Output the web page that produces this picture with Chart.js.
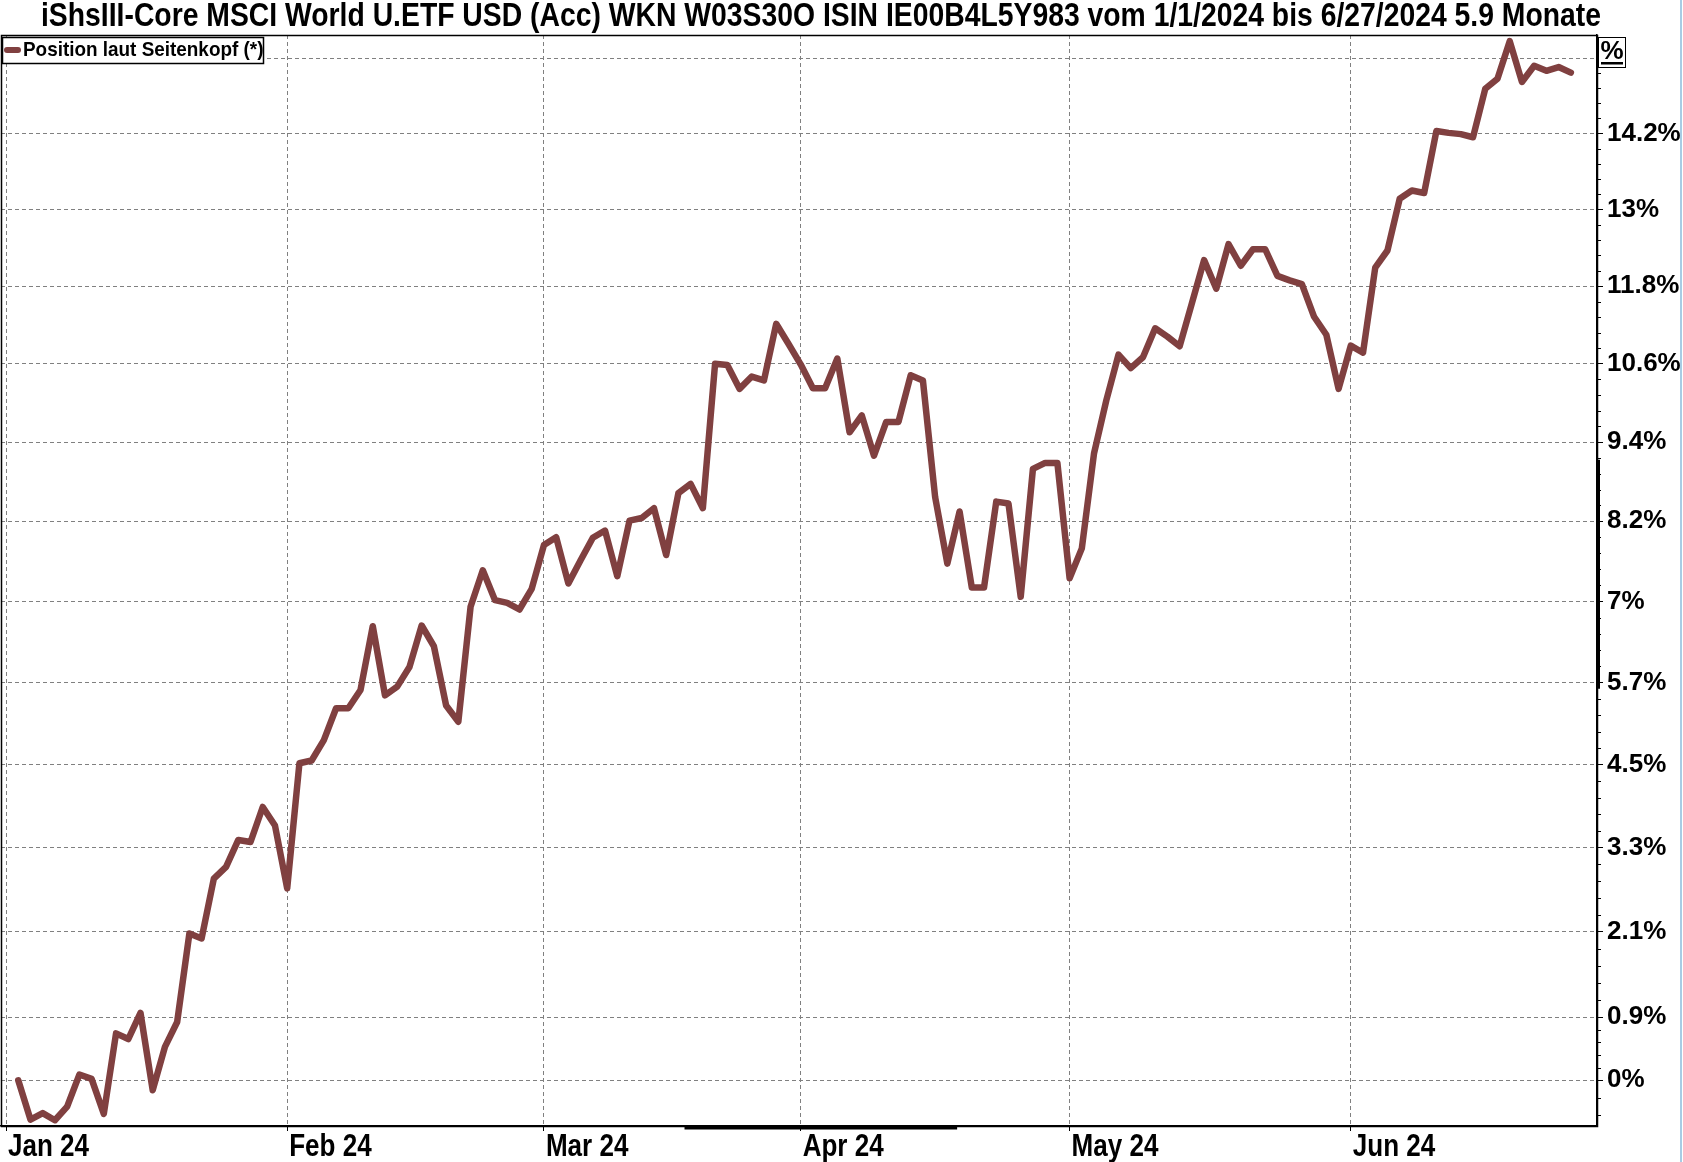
<!DOCTYPE html>
<html>
<head>
<meta charset="utf-8">
<script src="https://cdn.jsdelivr.net/npm/chart.js@4.4.1/dist/chart.umd.min.js"></script>
<style>
  html, body { margin: 0; padding: 0; background: #fff; }
  #wrap { width: 1683px; height: 1162px; position: relative; }
</style>
</head>
<body>
<div id="wrap"><canvas id="chart" width="1683" height="1162"></canvas></div>
<script>
// chart values (percent vs. 1/1/2024)
const titleText = "iShsIII-Core MSCI World U.ETF USD (Acc) WKN W03S30O ISIN IE00B4L5Y983 vom 1/1/2024 bis 6/27/2024 5.9 Monate";
const legendText = "Position laut Seitenkopf (*)";

const monthLabels = ["Jan 24", "Feb 24", "Mar 24", "Apr 24", "May 24", "Jun 24"];
const monthTickIdx = [-1, 22, 43, 64, 86, 109]; // trading-day index of month gridlines

const pctValues = [
  0, -0.55, -0.46, -0.56, -0.37, 0.08, 0.02, -0.47, 0.66, 0.58,
  0.95, -0.14, 0.47, 0.82, 2.08, 2.01, 2.87, 3.04, 3.43, 3.40,
  3.91, 3.64, 2.73, 4.55, 4.59, 4.89, 5.36, 5.36, 5.63, 6.58,
  5.55, 5.68, 5.97, 6.59, 6.28, 5.40, 5.16, 6.87, 7.42, 6.97,
  6.93, 6.83, 7.14, 7.80, 7.92, 7.22, 7.57, 7.91, 8.02, 7.33,
  8.17, 8.21, 8.36, 7.65, 8.59, 8.73, 8.36, 10.58, 10.56, 10.19,
  10.38, 10.32, 11.20, 10.89, 10.57, 10.20, 10.20, 10.66, 9.52, 9.78,
  9.16, 9.68, 9.68, 10.40, 10.32, 8.53, 7.52, 8.31, 7.16, 7.16,
  8.46, 8.43, 7.02, 8.96, 9.05, 9.05, 7.30, 7.75, 9.20, 10.01,
  10.72, 10.51, 10.68, 11.13, 11.00, 10.85, 11.52, 12.20, 11.75, 12.45,
  12.11, 12.37, 12.37, 11.95, 11.88, 11.82, 11.31, 11.03, 10.19, 10.86,
  10.75, 12.08, 12.35, 13.17, 13.30, 13.26, 14.25, 14.22, 14.20, 14.15,
  14.93, 15.09, 15.70, 15.04, 15.30, 15.22, 15.28, 15.19
];

const yTickPct = [0, 0.89, 2.11, 3.32, 4.53, 5.74, 6.95, 8.16, 9.37, 10.58, 11.79, 13.0, 14.21, 15.42];
const yTickLabels = ["0%", "0.9%", "2.1%", "3.3%", "4.5%", "5.7%", "7%", "8.2%", "9.4%", "10.6%", "11.8%", "13%", "14.2%", "%"];
const yRangePct = [-0.64, 15.8];
const xRangeIdx = [-1.41, 129.14];

// thick range markers on the axes
const xMarkIdx = [54.5, 76.8];
const yMarkPct = [5.65, 9.1];

const lineColor = "#804040";
const sans = '"Liberation Sans", Arial, sans-serif';

const toIdx = (p) => 100 + p;

// draw text squeezed horizontally (no narrow font installed)
function narrowText(ctx, text, x, y, sx, align) {
  ctx.save();
  ctx.translate(x, y);
  ctx.scale(sx, 1);
  ctx.textAlign = align;
  ctx.fillText(text, 0, 0);
  ctx.restore();
}

const extras = {
  id: "extras",
  afterDraw(chart) {
    const { ctx, chartArea: a, scales } = chart;
    const y = scales.y;
    const x = scales.x;
    ctx.save();

    // frame
    ctx.strokeStyle = "#000";
    ctx.lineWidth = 1.5;
    ctx.strokeRect(a.left + 0.5, a.top + 0.5, a.right - a.left, a.bottom - a.top);

    // minor ticks on right axis
    ctx.lineWidth = 1;
    const step0 = (yTickPct[2] - yTickPct[1]) / 5;
    const minors = [];
    for (let i = 0; i < yTickPct.length - 1; i++) {
      const s = (yTickPct[i + 1] - yTickPct[i]) / 5;
      for (let k = 1; k < 5; k++) minors.push(yTickPct[i] + k * s);
    }
    for (let k = 1; k < 5; k++) {
      minors.push(yTickPct[0] - k * step0);
      minors.push(yTickPct[yTickPct.length - 1] + k * step0);
    }
    ctx.beginPath();
    minors.forEach((p) => {
      const py = Math.round(y.getPixelForValue(toIdx(p))) + 0.5;
      if (py < a.top || py > a.bottom) return;
      ctx.moveTo(a.right, py);
      ctx.lineTo(a.right + 4, py);
    });
    ctx.stroke();

    // range markers
    ctx.lineWidth = 3;
    ctx.beginPath();
    ctx.moveTo(x.getPixelForValue(xMarkIdx[0]), a.bottom + 2);
    ctx.lineTo(x.getPixelForValue(xMarkIdx[1]), a.bottom + 2);
    ctx.moveTo(a.right + 1.5, y.getPixelForValue(toIdx(yMarkPct[0])));
    ctx.lineTo(a.right + 1.5, y.getPixelForValue(toIdx(yMarkPct[1])));
    ctx.stroke();

    // month labels
    ctx.fillStyle = "#000";
    ctx.font = "bold 31px " + sans;
    ctx.textBaseline = "middle";
    monthTickIdx.forEach((v, i) => {
      narrowText(ctx, monthLabels[i], x.getPixelForValue(v) + 2, a.bottom + 21, 0.84, "left");
    });

    // "%" unit box at the top of the value axis
    ctx.lineWidth = 1;
    ctx.fillStyle = "#fff";
    ctx.fillRect(a.right + 1, a.top + 2, 27, 30);
    ctx.strokeRect(a.right + 1.5, a.top + 2.5, 27, 30);
    ctx.fillStyle = "#000";
    ctx.font = "bold 26px " + sans;
    ctx.textAlign = "center";
    ctx.textBaseline = "alphabetic";
    ctx.fillText(yTickLabels[yTickLabels.length - 1], a.right + 15, a.top + 24);
    ctx.fillRect(a.right + 4, a.top + 27, 22, 2.5);

    // legend box
    ctx.fillStyle = "#fff";
    ctx.fillRect(a.left + 1, a.top + 2, 261, 26);
    ctx.lineWidth = 1.5;
    ctx.strokeRect(a.left + 1.5, a.top + 2.5, 261, 26);
    ctx.strokeStyle = lineColor;
    ctx.lineWidth = 6;
    ctx.lineCap = "round";
    ctx.beginPath();
    ctx.moveTo(a.left + 6, a.top + 15);
    ctx.lineTo(a.left + 17, a.top + 15);
    ctx.stroke();
    ctx.fillStyle = "#000";
    ctx.font = "bold 21px " + sans;
    ctx.textBaseline = "middle";
    narrowText(ctx, legendText, a.left + 22, a.top + 15.5, 0.9, "left");

    // title
    ctx.font = "bold 33px " + sans;
    ctx.textBaseline = "middle";
    const w = ctx.measureText(titleText).width;
    narrowText(ctx, titleText, 821, 17, 1560 / w, "center");

    // window edge
    ctx.strokeStyle = "#a8cce4";
    ctx.lineWidth = 2;
    ctx.beginPath();
    ctx.moveTo(1681, 0);
    ctx.lineTo(1681, 1162);
    ctx.stroke();
    ctx.restore();
  }
};

new Chart(document.getElementById("chart"), {
  type: "line",
  data: {
    datasets: [{
      data: pctValues.map((p, i) => ({ x: i, y: toIdx(p) })),
      borderColor: lineColor,
      borderWidth: 6.5,
      pointRadius: 0,
      tension: 0,
      borderJoinStyle: "round",
      borderCapStyle: "round",
      fill: false
    }]
  },
  plugins: [extras],
  options: {
    responsive: false,
    animation: false,
    layout: { padding: { top: 35, left: 1, right: 0, bottom: 0 } },
    plugins: { legend: { display: false }, tooltip: { enabled: false } },
    scales: {
      x: {
        type: "linear",
        min: xRangeIdx[0],
        max: xRangeIdx[1],
        afterBuildTicks: (s) => { s.ticks = monthTickIdx.map((v) => ({ value: v })); },
        afterFit: (s) => { s.height = 36; },
        ticks: { display: false, autoSkip: false, maxRotation: 0 },
        grid: { color: "#808080", lineWidth: 1, tickLength: 5, tickColor: "#000" },
        border: { color: "#000", width: 1.5, dash: [4, 3] }
      },
      y: {
        type: "logarithmic",
        position: "right",
        min: toIdx(yRangePct[0]),
        max: toIdx(yRangePct[1]),
        afterBuildTicks: (s) => { s.ticks = yTickPct.map((p) => ({ value: toIdx(p) })); },
        afterFit: (s) => { s.width = 86; },
        ticks: {
          autoSkip: false,
          padding: 4,
          color: "#000",
          font: { family: sans, size: 26, weight: "bold" },
          callback: (v, i) => (i === yTickLabels.length - 1 ? "" : yTickLabels[i])
        },
        grid: { color: "#808080", lineWidth: 1, tickLength: 6, tickColor: "#000" },
        border: { color: "#000", width: 1.5, dash: [4, 3] }
      }
    }
  }
});
</script>
</body>
</html>
